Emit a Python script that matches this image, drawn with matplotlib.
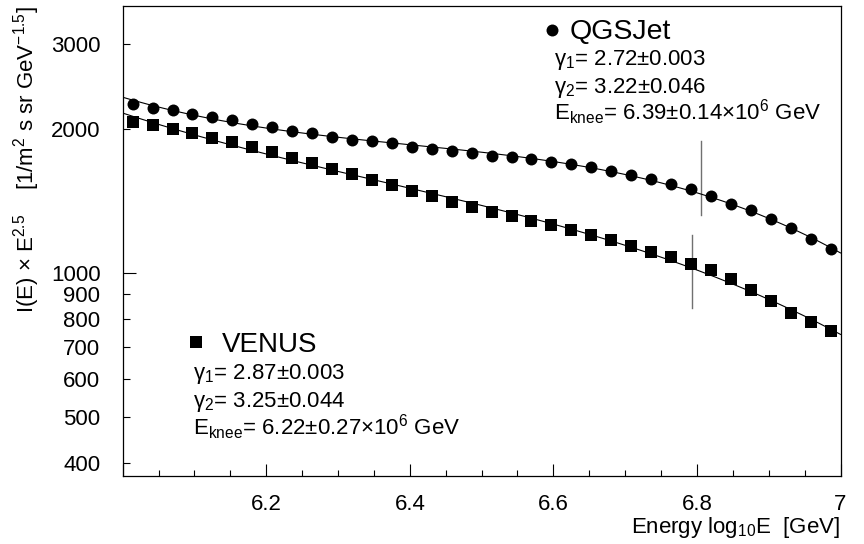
import numpy as np
import matplotlib
matplotlib.use('Agg')
import matplotlib.pyplot as plt
from matplotlib.ticker import FixedLocator, MultipleLocator, FuncFormatter

plt.rcParams['font.family'] = ['Liberation Sans', 'DejaVu Sans']
plt.rcParams['mathtext.fontset'] = 'custom'
plt.rcParams['mathtext.rm'] = 'Liberation Sans'
plt.rcParams['mathtext.it'] = 'Liberation Sans:italic'
plt.rcParams['mathtext.bf'] = 'Liberation Sans:bold'

# bin centres in log10(E/GeV): 36 bins between 6 and 7
log_e = 6.0 + (np.arange(36) + 0.5) / 36

# I(E) x E^2.5  [1/m^2 s sr GeV^-1.5]
qgsjet = [2254, 2214, 2186, 2151, 2117, 2080, 2050, 2018, 1982, 1957,
          1925, 1898, 1880, 1862, 1835, 1815, 1797, 1780, 1757, 1743,
          1727, 1707, 1686, 1662, 1632, 1601, 1568, 1535, 1497, 1445,
          1389, 1353, 1293, 1238, 1175, 1121]
venus = [2067, 2034, 1995, 1963, 1913, 1877, 1829, 1786, 1740, 1696,
         1650, 1606, 1563, 1523, 1484, 1447, 1406, 1372, 1341, 1314,
         1285, 1258, 1228, 1199, 1169, 1137, 1105, 1076, 1041, 1011,
         969, 920, 870, 825, 788, 753]

# knee positions (GeV) and extent of the knee markers
knee_qgsjet = 6.39e6
knee_venus = 6.22e6
knee_qgsjet_span = [1320, 1880]
knee_venus_span = [842, 1197]

txt_qgsjet = ['γ$_1$= 2.72±0.003', 'γ$_2$= 3.22±0.046',
              'E$_{\\mathrm{knee}}$= 6.39±0.14×10$^6$ GeV']
txt_venus = ['γ$_1$= 2.87±0.003', 'γ$_2$= 3.25±0.044',
             'E$_{\\mathrm{knee}}$= 6.22±0.27×10$^6$ GeV']

W, H = 864, 544
fig = plt.figure(figsize=(W / 100, H / 100), dpi=100)
x0, x1, ytop, ybot = 122.7, 840.5, 6.0, 475.7
ax = fig.add_axes([x0 / W, (H - ybot) / H, (x1 - x0) / W, (ybot - ytop) / H])

x = np.array(log_e)
xs = np.linspace(6.0, 7.0, 300)
for vals, mk, ms in [(qgsjet, 'o', 8.6), (venus, 's', 8.0)]:
    # smooth fit line through the points
    c = np.polyfit(x, np.log10(vals), 3)
    ax.plot(xs, 10 ** np.polyval(c, xs), color='black', lw=0.8, zorder=2)
    ax.plot(x, vals, ls='none', marker=mk, ms=ms, color='black',
            markeredgewidth=0, zorder=3)

ax.plot([np.log10(knee_qgsjet)] * 2, knee_qgsjet_span, color='#707070', lw=1.0, zorder=1)
ax.plot([np.log10(knee_venus)] * 2, knee_venus_span, color='#707070', lw=1.0, zorder=1)

ax.set_yscale('log')
ax.set_xlim(6.0, 7.0)
ax.set_ylim(376, 3610)

ax.yaxis.set_major_locator(FixedLocator([1000]))
ax.yaxis.set_minor_locator(FixedLocator([400, 500, 600, 700, 800, 900, 2000, 3000]))
fmt = FuncFormatter(lambda v, p: f'{v:g}')
ax.yaxis.set_major_formatter(fmt)
ax.yaxis.set_minor_formatter(fmt)

ax.xaxis.set_major_locator(MultipleLocator(0.2))
ax.xaxis.set_minor_locator(MultipleLocator(0.05))
ax.xaxis.set_major_formatter(FuncFormatter(lambda v, p: '' if v < 6.1 else f'{round(v, 1):g}'))

ax.tick_params(which='both', direction='in', top=False, right=False, labelsize=16, width=0.8)
ax.tick_params(axis='x', which='major', length=8.6, pad=13)
ax.tick_params(axis='x', which='minor', length=4.0)
ax.tick_params(axis='y', which='major', length=9.4, pad=16)
ax.tick_params(axis='y', which='minor', length=5.0, pad=16)
for s in ax.spines.values():
    s.set_linewidth(0.9)

# legend-like annotations, placed in pixel terms of the axes box
def fx(px):
    return (px - x0) / (x1 - x0)

def fy(py):
    return (ybot - py) / (ybot - ytop)

ax.plot([fx(552)], [fy(30)], 'o', ms=8.6, color='black', markeredgewidth=0,
        transform=ax.transAxes, clip_on=False)
ax.text(fx(570), fy(39.5), 'QGSJet', fontsize=20.5, transform=ax.transAxes, va='baseline')
for i, t in enumerate(txt_qgsjet):
    ax.text(fx(554), fy(65.5 + 27 * i), t, fontsize=16, transform=ax.transAxes, va='baseline')

ax.plot([fx(195.5)], [fy(341.8)], 's', ms=8.4, color='black', markeredgewidth=0,
        transform=ax.transAxes, clip_on=False)
ax.text(fx(221.7), fy(351.7), 'VENUS', fontsize=20, transform=ax.transAxes, va='baseline')
for i, t in enumerate(txt_venus):
    ax.text(fx(193.3), fy(379 + 28 * i), t, fontsize=16, transform=ax.transAxes, va='baseline')

fig.text(27 / W, 1 - 6 / H, 'I(E) × E$^{2.5}$    [1/m$^2$ s sr GeV$^{-1.5}$]',
         rotation=90, ha='center', va='top', fontsize=16)
fig.text(840 / W, (H - 533) / H, 'Energy log$_{10}$E  [GeV]',
         ha='right', va='baseline', fontsize=16)

fig.savefig('out.png', dpi=100)
plt.close(fig)
